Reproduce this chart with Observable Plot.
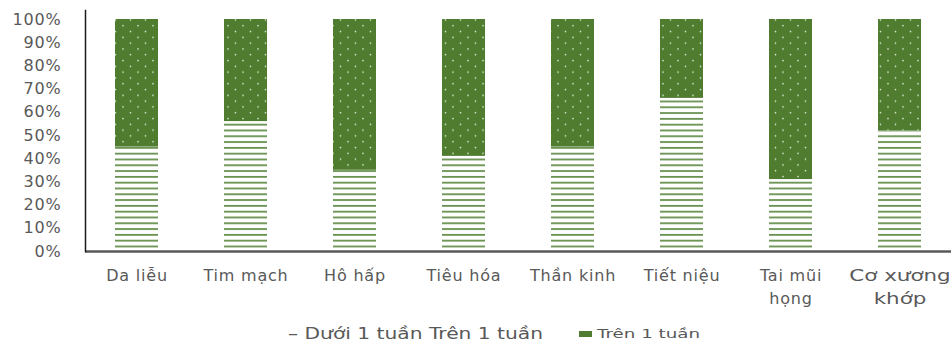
<!DOCTYPE html>
<html>
<head>
<meta charset="utf-8">
<script src="https://cdn.jsdelivr.net/npm/d3@7"></script>
<script src="https://cdn.jsdelivr.net/npm/@observablehq/plot@0.6"></script>
<style>
  html, body { margin: 0; padding: 0; background: #fff; }
  body { position: relative; width: 951px; height: 347px; }
  #chart { width: 951px; height: 312px; }
  #chart svg { display: block; }
  .legend { position: absolute; left: 0; top: 312px; width: 951px; height: 35px; font-family: "DejaVu Sans", sans-serif; color: #595959; }
  .legend span { position: absolute; white-space: nowrap; transform-origin: 0 50%; line-height: 20px; height: 20px; }
  .legend .swatch { width: 13px; height: 6px; background: #4f7c2f; }
</style>
</head>
<body>
<div id="chart"></div>
<script>
// Specialties (x categories)
const categories = ["Da liễu", "Tim mạch", "Hô hấp", "Tiêu hóa", "Thần kinh", "Tiết niệu", "Tai mũi họng", "Cơ xương khớp"];
// Axis labels, wrapped where the specialty name is long
const categoryLabels = ["Da liễu", "Tim mạch", "Hô hấp", "Tiêu hóa", "Thần kinh", "Tiết niệu", "Tai mũi\nhọng", "Cơ xương\nkhớp"];
// Share of patients (%) by treatment duration
const duoi1Tuan = [45, 56, 35, 41, 45, 66, 31, 52];
const tren1Tuan = [55, 44, 65, 59, 55, 34, 69, 48];
// Y-axis ticks
const yTicks = [0, 0.1, 0.2, 0.3, 0.4, 0.5, 0.6, 0.7, 0.8, 0.9, 1];

const rows = categories.map((c, i) => ({
  cat: c,
  under: duoi1Tuan[i] / 100,
  over: tren1Tuan[i] / 100
}));
const labelOf = new Map(categories.map((c, i) => [c, categoryLabels[i]]));

const plot = Plot.plot({
  width: 951,
  height: 312,
  marginLeft: 85,
  marginRight: 0,
  marginTop: 10,
  marginBottom: 61,
  style: { fontFamily: "DejaVu Sans, sans-serif", fontSize: "16px", letterSpacing: "0.8px", color: "#595959", background: "#fff" },
  x: { domain: categories, paddingInner: 0.607, paddingOuter: 0.265, label: null },
  y: { domain: [0, 1.0388], label: null },
  marks: [
    Plot.barY(rows, { x: "cat", y1: 0, y2: "under", fill: "url(#stripes)" }),
    Plot.barY(rows, { x: "cat", y1: "under", y2: d => d.under + d.over, fill: "url(#dots)" }),
    Plot.axisY({ ticks: yTicks, tickFormat: d3.format(".0%"), tickSize: 0, tickPadding: 24, fill: "#595959" }),
    Plot.axisX({ tickFormat: d => labelOf.get(d), tickSize: 0, tickPadding: 14, lineHeight: 1.4, fill: "#595959", className: "xaxis" }),
    Plot.ruleY([0], { stroke: "#595959", strokeWidth: 2.5 }),
    Plot.frame({ anchor: "left", stroke: "#1a1a1a", strokeWidth: 1.5 })
  ]
});

// Fill patterns: horizontal stripes for "Dưới 1 tuần", dotted green for "Trên 1 tuần"
d3.select(plot).insert("defs", ":first-child").html(`
  <pattern id="stripes" patternUnits="userSpaceOnUse" width="20" height="5.8">
    <rect width="20" height="5.8" fill="#fff"/>
    <rect y="2" width="20" height="1.7" fill="#5e8a44"/>
  </pattern>
  <pattern id="dots" patternUnits="userSpaceOnUse" width="15" height="11.6">
    <rect width="15" height="11.6" fill="#4f7c2f"/>
    <circle cx="3" cy="2.5" r="0.85" fill="#dfe9d3"/>
    <circle cx="10.5" cy="8.3" r="0.85" fill="#dfe9d3"/>
  </pattern>
`);

// The last category label is drawn wider than the others
d3.select(plot).selectAll("text")
  .filter(function () { return this.textContent.startsWith("Cơ xương"); })
  .attr("transform", function () { return (this.getAttribute("transform") || "") + " scale(1.34,1)"; })
  .style("letter-spacing", "0px");

document.getElementById("chart").appendChild(plot);
</script>
<div class="legend">
  <span id="lg1" data-w="255" style="left:288px; top:12px; font-size:16px;">– Dưới 1 tuần Trên 1 tuần</span>
  <span class="swatch" style="left:579px; top:19px;"></span>
  <span id="lg2" data-w="103" style="left:597px; top:12px; font-size:13px;">Trên 1 tuần</span>
</div>
<script>
// Stretch legend entries horizontally to their set widths
for (const el of document.querySelectorAll(".legend span[data-w]")) {
  const w = el.getBoundingClientRect().width;
  el.style.transform = `scaleX(${(+el.dataset.w / w).toFixed(3)})`;
}
</script>
</body>
</html>
